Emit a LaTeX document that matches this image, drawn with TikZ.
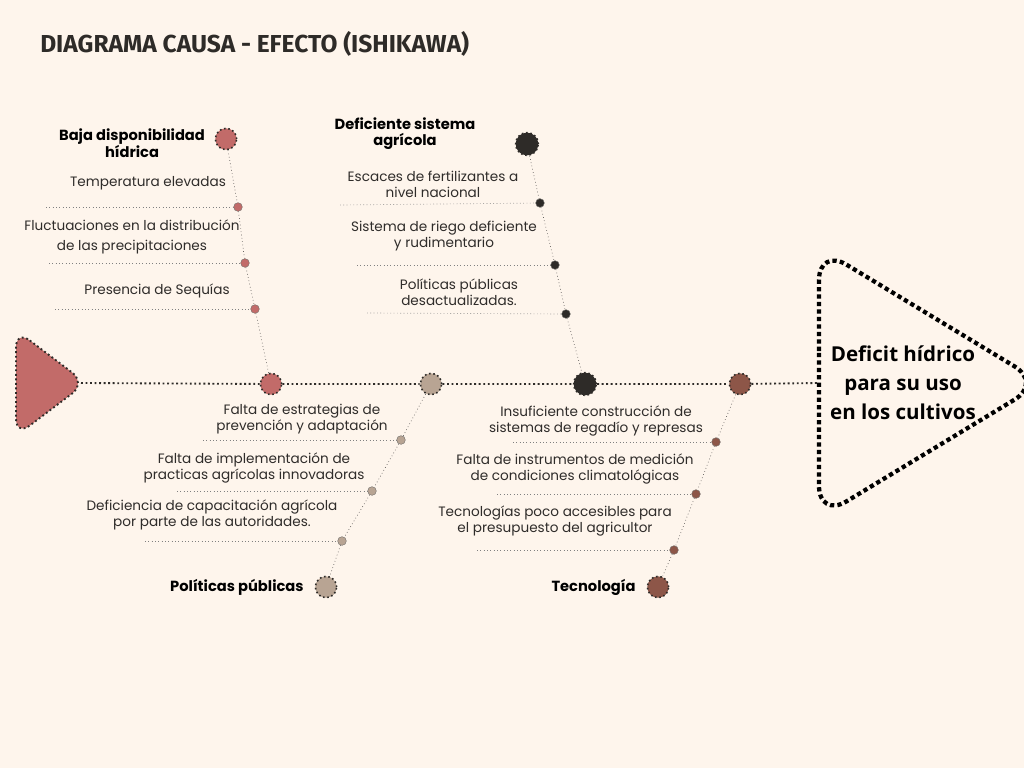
\documentclass[tikz,border=0pt]{standalone}
\usepackage{fontspec}
\setmainfont{Poppins}
\newfontfamily\efffont{Open Sans}
\newfontfamily\titlefont{Fira Sans}
\usetikzlibrary{positioning}
\definecolor{fondo}{HTML}{FEF5EC}
\definecolor{rosa}{HTML}{C26B69}
\definecolor{arena}{HTML}{B8A493}
\definecolor{carbon}{HTML}{2E2B28}
\definecolor{cafe}{HTML}{8D5648}
\definecolor{texto}{HTML}{2F2C2A}

\tikzset{
    spot/.style={circle, draw=carbon, dotted, line width=1.2pt, inner sep=0pt, minimum size=16pt},
    dot/.style={circle, draw=carbon!70, line width=0.3pt, inner sep=0pt, minimum size=6.5pt},
    bone/.style={draw=carbon!80, dotted, line width=0.5pt},
    rib/.style={draw=gray, dotted, line width=0.5pt},
    spine/.style={draw=carbon, dotted, line width=1.4pt},
    item/.style={align=center, text=texto, font=\fontsize{10.2}{12}\selectfont, inner sep=0pt},
    cause/.style={align=center, font=\fontsize{11}{12}\selectfont\bfseries, inner sep=0pt}
}

\begin{document}
\begin{tikzpicture}[x=0.75pt, y=-0.75pt]
    \fill[fondo] (0,0) rectangle (1024,768);
    \useasboundingbox (0,0) rectangle (1024,768);

    \node[anchor=west, inner sep=0pt, text=carbon] (titulo) at (40,44)
        {\titlefont\fontsize{18.4}{22}\selectfont\bfseries DIAGRAMA CAUSA - EFECTO (ISHIKAWA)};

    % cola y cabeza
    \fill[rosa, rounded corners=13pt] (16,330) -- (86,383) -- (16,436) -- cycle;
    \draw[carbon, dotted, line width=1.4pt, rounded corners=13pt] (16,330) -- (86,383) -- (16,436) -- cycle;
    \coordinate (tail) at (81,383);
    \draw[black, line width=3.2pt, dash pattern=on 3.2pt off 2.4pt, rounded corners=24pt]
        (819,383) -- (819,248) -- (1042,383) -- (819,518) -- cycle;
    \coordinate (eff) at (818,383);
    \node[align=center, inner sep=0pt, font=\efffont\fontsize{15.4}{21.8}\selectfont\bfseries] (efecto) at (903,383)
        {Deficit hídrico\\para su uso\\en los cultivos};

    % espina
    \node[spot, fill=rosa] (s1) at (271,384) {};
    \node[spot, fill=arena] (s2) at (431,384) {};
    \node[spot, fill=carbon, minimum size=17pt] (s3) at (585,384) {};
    \node[spot, fill=cafe] (s4) at (740,384) {};
    \draw[spine] (tail) -- (s1) -- (s2) -- (s3) -- (s4) -- (eff);

    % baja disponibilidad hidrica
    \node[spot, fill=rosa] (b1) at (226,139) {};
    \node[dot, fill=rosa] (b1a) at (238,207) {};
    \node[dot, fill=rosa] (b1b) at (245,263) {};
    \node[dot, fill=rosa] (b1c) at (255,309) {};
    \draw[bone] (b1) -- (b1a) -- (b1b) -- (b1c) -- (s1);
    \coordinate (e1a) at (46,207);
    \coordinate (e1b) at (49,263);
    \coordinate (e1c) at (55,309);
    \draw[rib] (e1a) -- (b1a);
    \draw[rib] (e1b) -- (b1b);
    \draw[rib] (e1c) -- (b1c);
    \node[cause] (n1) at (132,143) {Baja disponibilidad\\hídrica};
    \node[item] (t1a) at (148,183) {Temperatura elevadas};
    \node[item] (t1b) at (132,237) {Fluctuaciones en la distribución\\[3pt]de las precipitaciones};
    \node[item] (t1c) at (157,291) {Presencia de Sequías};

    % deficiente sistema agricola
    \node[spot, fill=carbon, minimum size=17pt] (b2) at (527,144) {};
    \node[dot, fill=carbon] (b2a) at (540,203) {};
    \node[dot, fill=carbon] (b2b) at (555,265) {};
    \node[dot, fill=carbon] (b2c) at (566,314) {};
    \draw[bone] (b2) -- (b2a) -- (b2b) -- (b2c) -- (s3);
    \coordinate (e2a) at (340,205);
    \coordinate (e2b) at (357,265);
    \coordinate (e2c) at (367,313);
    \draw[rib] (e2a) -- (b2a);
    \draw[rib] (e2b) -- (b2b);
    \draw[rib] (e2c) -- (b2c);
    \node[cause] (n2) at (405,134) {Deficiente sistema\\agrícola};
    \node[item] (t2a) at (433,184) {Escaces de fertilizantes a\\nivel nacional};
    \node[item] (t2b) at (444,236) {Sistema de riego deficiente\\y rudimentario};
    \node[item] (t2c) at (459,292) {Políticas públicas\\desactualizadas.};

    % politicas publicas
    \node[spot, fill=arena] (b3) at (326,587) {};
    \node[dot, fill=arena] (b3a) at (401,440) {};
    \node[dot, fill=arena] (b3b) at (372,491) {};
    \node[dot, fill=arena] (b3c) at (342,541) {};
    \draw[bone] (s2) -- (b3a) -- (b3b) -- (b3c) -- (b3);
    \coordinate (e3a) at (203,440);
    \coordinate (e3b) at (177,491);
    \coordinate (e3c) at (145,541);
    \draw[rib] (e3a) -- (b3a);
    \draw[rib] (e3b) -- (b3b);
    \draw[rib] (e3c) -- (b3c);
    \node[cause, left=8pt of b3] (n3) {Políticas públicas};
    \node[item] (t3a) at (302,419) {Falta de estrategias de\\prevención y adaptación};
    \node[item] (t3b) at (254,468) {Falta de implementación de\\practicas agrícolas innovadoras};
    \node[item] (t3c) at (212,515) {Deficiencia de capacitación agrícola\\por parte de las autoridades.};

    % tecnologia
    \node[spot, fill=cafe] (b4) at (658,587) {};
    \node[dot, fill=cafe] (b4a) at (716,442) {};
    \node[dot, fill=cafe] (b4b) at (696,494) {};
    \node[dot, fill=cafe] (b4c) at (674,550) {};
    \draw[bone] (s4) -- (b4a) -- (b4b) -- (b4c) -- (b4);
    \coordinate (e4a) at (513,442);
    \coordinate (e4b) at (497,494);
    \coordinate (e4c) at (477,550);
    \draw[rib] (e4a) -- (b4a);
    \draw[rib] (e4b) -- (b4b);
    \draw[rib] (e4c) -- (b4c);
    \node[cause, left=8pt of b4] (n4) {Tecnología};
    \node[item] (t4a) at (596,421) {Insuficiente construcción de\\sistemas de regadío y represas};
    \node[item] (t4b) at (575,469) {Falta de instrumentos de medición\\de condiciones climatológicas};
    \node[item] (t4c) at (555,521) {Tecnologías poco accesibles para\\el presupuesto del agricultor};
\end{tikzpicture}
\end{document}
